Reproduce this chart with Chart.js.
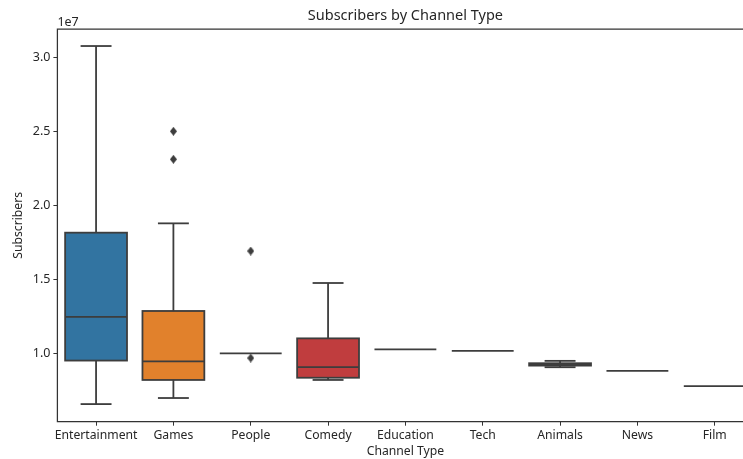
<!DOCTYPE html>
<html>
<head>
<meta charset="utf-8">
<script src="https://cdn.jsdelivr.net/npm/chart.js@4.4.0/dist/chart.umd.min.js"></script>
<style>
  html, body { margin: 0; padding: 0; background: #fff; overflow: hidden; }
  #wrap { width: 743px; height: 459px; overflow: hidden; }
</style>
</head>
<body>
<div id="wrap"><canvas id="chart" width="770" height="459"></canvas></div>
<script>
const channels = ['Entertainment', 'Games', 'People', 'Comedy', 'Education', 'Tech', 'Animals', 'News', 'Film'];
const whiskerLow = [6570000, 6980000, 10000000, 8200000, 10270000, 10160000, 9060000, 8820000, 7790000];
const q1 = [9510000, 8200000, 10000000, 8350000, 10270000, 10160000, 9170000, 8820000, 7790000];
const median = [12460000, 9460000, 10000000, 9070000, 10270000, 10160000, 9240000, 8820000, 7790000];
const q3 = [18150000, 12860000, 10000000, 11010000, 10270000, 10160000, 9330000, 8820000, 7790000];
const whiskerHigh = [30760000, 18780000, 10000000, 14750000, 10270000, 10160000, 9490000, 8820000, 7790000];
const outlierChannel = ['Games', 'Games', 'People', 'People'];
const outlierValue = [25000000, 23110000, 16910000, 9680000];
const yTicks = [10000000, 15000000, 20000000, 25000000, 30000000];

const palette = ['#3274a1', '#e1812c', '#3a923a', '#c03d3e', '#9372b2', '#845b53', '#d684bd', '#7f7f7f', '#a9aa35'];
const lineColor = '#3d3d3d';
const textColor = '#262626';
const fontFamily = '"Noto Sans", sans-serif';

// thin diamond marker for outliers
const diamond = document.createElement('canvas');
diamond.width = 7;
diamond.height = 9;
(() => {
    const c = diamond.getContext('2d');
    c.fillStyle = lineColor;
    c.beginPath();
    c.moveTo(3.5, 0);
    c.lineTo(7, 4.5);
    c.lineTo(3.5, 9);
    c.lineTo(0, 4.5);
    c.closePath();
    c.fill();
})();

// box outlines, whiskers, caps, medians, plus the left/bottom/top spines
const boxParts = {
    id: 'boxParts',
    afterDatasetsDraw(chart) {
        const { ctx, scales: { y } } = chart;
        const meta = chart.getDatasetMeta(0);
        ctx.save();
        ctx.strokeStyle = lineColor;
        ctx.lineWidth = 1.8;
        const seg = (x0, y0, x1, y1) => {
            ctx.beginPath();
            ctx.moveTo(x0, y0);
            ctx.lineTo(x1, y1);
            ctx.stroke();
        };
        meta.data.forEach((bar, i) => {
            const cx = bar.x;
            const half = bar.width / 2;
            const cap = half / 2;
            const top = y.getPixelForValue(q3[i]);
            const bottom = y.getPixelForValue(q1[i]);
            if (q3[i] > q1[i]) {
                ctx.strokeRect(cx - half, top, half * 2, bottom - top);
            }
            if (whiskerHigh[i] > q3[i]) {
                const w = y.getPixelForValue(whiskerHigh[i]);
                seg(cx, top, cx, w);
                seg(cx - cap, w, cx + cap, w);
            }
            if (whiskerLow[i] < q1[i]) {
                const w = y.getPixelForValue(whiskerLow[i]);
                seg(cx, bottom, cx, w);
                seg(cx - cap, w, cx + cap, w);
            }
            const m = y.getPixelForValue(median[i]);
            seg(cx - half, m, cx + half, m);
        });
        ctx.restore();
    },
    afterDraw(chart) {
        const { ctx, chartArea: a } = chart;
        ctx.save();
        ctx.strokeStyle = '#333';
        ctx.lineWidth = 1.25;
        ctx.beginPath();
        ctx.moveTo(a.right, a.top);
        ctx.lineTo(a.left, a.top);
        ctx.lineTo(a.left, a.bottom);
        ctx.lineTo(a.right, a.bottom);
        ctx.stroke();
        ctx.fillStyle = textColor;
        ctx.font = '12.5px ' + fontFamily;
        ctx.textAlign = 'left';
        ctx.textBaseline = 'alphabetic';
        ctx.fillText('1e7', a.left, a.top - 3);
        ctx.restore();
    }
};

new Chart(document.getElementById('chart'), {
    type: 'bar',
    data: {
        labels: channels,
        datasets: [
            {
                data: channels.map((c, i) => [q1[i], q3[i]]),
                backgroundColor: palette,
                borderWidth: 0,
                categoryPercentage: 0.8,
                barPercentage: 1
            },
            {
                type: 'scatter',
                data: outlierChannel.map((c, i) => ({ x: c, y: outlierValue[i] })),
                pointStyle: diamond,
                radius: 4
            }
        ]
    },
    options: {
        responsive: false,
        animation: false,
        layout: { padding: { left: 0, right: 16.6, top: 0, bottom: 0 } },
        plugins: {
            legend: { display: false },
            tooltip: { enabled: false },
            title: {
                display: true,
                fullSize: false,
                text: 'Subscribers by Channel Type',
                color: textColor,
                font: { family: fontFamily, size: 14.5, weight: 'normal' },
                padding: { top: 7, bottom: 4.6 }
            }
        },
        scales: {
            x: {
                offset: true,
                grid: { display: true, drawOnChartArea: false, tickLength: 4, color: '#333', offset: false },
                border: { display: false },
                ticks: { color: textColor, font: { family: fontFamily, size: 12.2 }, padding: 3, maxRotation: 0, autoSkip: false },
                title: {
                    display: true,
                    text: 'Channel Type',
                    color: textColor,
                    font: { family: fontFamily, size: 12.2 },
                    padding: { top: 0, bottom: 0 }
                },
                afterFit: s => { s.height = 37.3; }
            },
            y: {
                min: 5380000,
                max: 31910000,
                afterBuildTicks: s => { s.ticks = yTicks.map(v => ({ value: v })); },
                grid: { display: true, drawOnChartArea: false, tickLength: 4, color: '#333' },
                border: { display: false },
                ticks: {
                    color: textColor,
                    font: { family: fontFamily, size: 12.5 },
                    padding: 3,
                    callback: v => (v / 1e7).toFixed(1)
                },
                title: {
                    display: true,
                    text: 'Subscribers',
                    color: textColor,
                    font: { family: fontFamily, size: 12.2 },
                    padding: { top: 11, bottom: 0 }
                },
                afterFit: s => { s.width = 57.4; }
            }
        }
    },
    plugins: [boxParts]
});
</script>
</body>
</html>
